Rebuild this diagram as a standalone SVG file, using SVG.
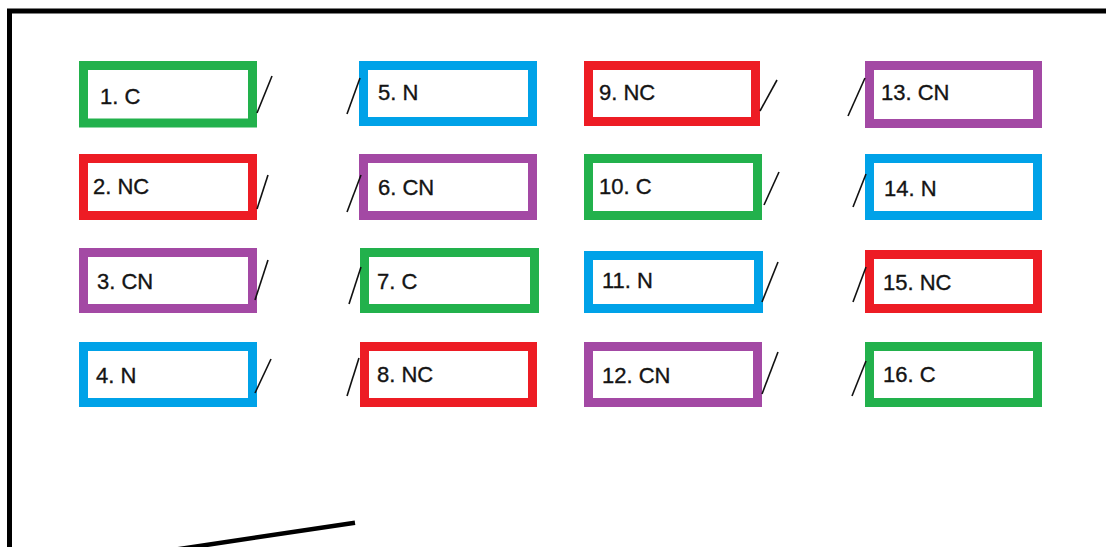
<svg xmlns="http://www.w3.org/2000/svg" width="1106" height="547" viewBox="0 0 1106 547">
<style>
.box{fill:#fff;stroke-width:9}
.g{stroke:#22B14C}.b{stroke:#00A2E8}.r{stroke:#ED1C24}.p{stroke:#A349A4}
.t{font-family:"Liberation Sans",Arial,sans-serif;font-size:22px;fill:#141414;stroke:#141414;stroke-width:0.35}
.tick{stroke:#111;stroke-width:1.6;fill:none}
.frame{stroke:#000;fill:none;stroke-width:5}
</style>
<rect width="1106" height="547" fill="#fff"/>
<g id="frame">
<path class="frame" d="M9.5 552 V11 H1110"/>
<line x1="176" y1="549.5" x2="355" y2="522.7" stroke="#000" stroke-width="4.5"/>
</g>
<g id="n1"><rect class="box g" x="83.5" y="65.5" width="169" height="57.5"/><text class="t" x="100" y="104">1. C</text></g>
<g id="n2"><rect class="box r" x="83.5" y="158.5" width="169" height="57"/><text class="t" x="93" y="194">2. NC</text></g>
<g id="n3"><rect class="box p" x="83.5" y="252.5" width="169" height="56"/><text class="t" x="97" y="289">3. CN</text></g>
<g id="n4"><rect class="box b" x="83.5" y="346.5" width="169" height="56"/><text class="t" x="96" y="383">4. N</text></g>
<g id="n5"><rect class="box b" x="363.5" y="65.5" width="169" height="56"/><text class="t" x="378" y="100">5. N</text></g>
<g id="n6"><rect class="box p" x="363.5" y="158.5" width="169" height="57"/><text class="t" x="378" y="195">6. CN</text></g>
<g id="n7"><rect class="box g" x="364.5" y="252.5" width="170" height="56"/><text class="t" x="377" y="289">7. C</text></g>
<g id="n8"><rect class="box r" x="364.5" y="346.5" width="168" height="56"/><text class="t" x="377" y="382">8. NC</text></g>
<g id="n9"><rect class="box r" x="588.5" y="65.5" width="167" height="56"/><text class="t" x="599" y="100">9. NC</text></g>
<g id="n10"><rect class="box g" x="588.5" y="158.5" width="169" height="57"/><text class="t" x="599" y="194">10. C</text></g>
<g id="n11"><rect class="box b" x="588.5" y="255.5" width="170" height="53"/><text class="t" x="602" y="288">11. N</text></g>
<g id="n12"><rect class="box p" x="588.5" y="346.5" width="169" height="56"/><text class="t" x="602" y="383">12. CN</text></g>
<g id="n13"><rect class="box p" x="869.5" y="65.5" width="168" height="58"/><text class="t" x="881" y="100">13. CN</text></g>
<g id="n14"><rect class="box b" x="869.5" y="158.5" width="168" height="57"/><text class="t" x="884" y="196">14. N</text></g>
<g id="n15"><rect class="box r" x="869.5" y="254.5" width="168" height="54"/><text class="t" x="883" y="290">15. NC</text></g>
<g id="n16"><rect class="box g" x="869.5" y="346.5" width="168" height="56"/><text class="t" x="883" y="382">16. C</text></g>
<g id="connectors">
<line class="tick" x1="257" y1="113" x2="272" y2="76"/>
<line class="tick" x1="257" y1="209" x2="268" y2="175"/>
<line class="tick" x1="255" y1="300" x2="268" y2="260"/>
<line class="tick" x1="255" y1="393" x2="271" y2="359"/>
<line class="tick" x1="347" y1="114" x2="360" y2="78"/>
<line class="tick" x1="347" y1="212" x2="361" y2="175"/>
<line class="tick" x1="349" y1="304" x2="361" y2="267"/>
<line class="tick" x1="347" y1="396" x2="359" y2="358"/>
<line class="tick" x1="760" y1="111" x2="777" y2="80"/>
<line class="tick" x1="764" y1="205" x2="779" y2="172"/>
<line class="tick" x1="762" y1="302" x2="778" y2="262"/>
<line class="tick" x1="762" y1="394" x2="778" y2="352"/>
<line class="tick" x1="848" y1="116" x2="865" y2="78"/>
<line class="tick" x1="853" y1="207" x2="866" y2="174"/>
<line class="tick" x1="853" y1="302" x2="866" y2="267"/>
<line class="tick" x1="852" y1="396" x2="866" y2="361"/>
</g>
</svg>
